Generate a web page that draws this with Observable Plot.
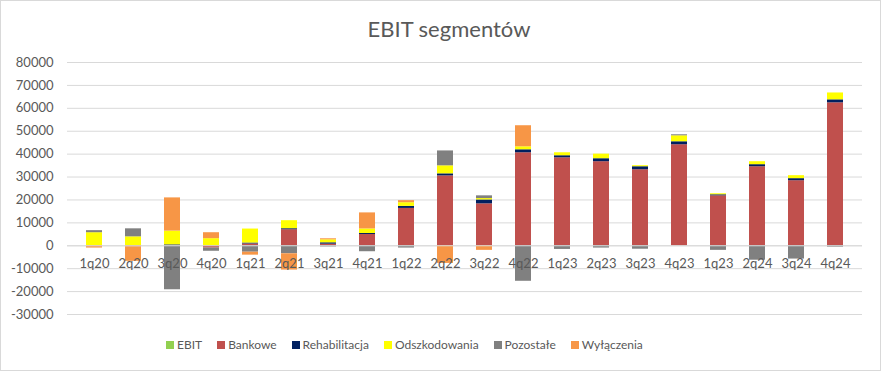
<!DOCTYPE html>
<html>
<head>
<meta charset="utf-8">
<script src="https://cdn.jsdelivr.net/npm/d3@7"></script>
<script src="https://cdn.jsdelivr.net/npm/@observablehq/plot@0.6"></script>
<style>
  html, body { margin: 0; padding: 0; background: #fff; }
  #wrap { position: relative; width: 881px; height: 371px; overflow: hidden; font-family: Lato, "Open Sans", sans-serif; color: #595959; }
  #frame { position: absolute; left: 0; top: 0; width: 881px; height: 371px; box-sizing: border-box; border: 1px solid #d9d9d9; pointer-events: none; }
  #title { position: absolute; left: 0; top: 18px; width: 898px; text-align: center; font-size: 22px; line-height: 21px; white-space: nowrap; }
  #legend { position: absolute; left: 166px; top: 339px; font-size: 12px; line-height: 12px; white-space: nowrap; }
  #legend .item { display: inline-block; margin-right: 15px; }
  #legend .sw { display: inline-block; width: 8px; height: 8px; margin-right: 3px; vertical-align: baseline; }
  #chart { position: absolute; left: 0; top: 0; }
</style>
</head>
<body>
<div id="wrap">
  <div id="chart"></div>
  <div id="title">EBIT segmentów</div>
  <div id="legend"></div>
  <div id="frame"></div>
</div>
<script>
// Category tick labels (the original repeats "1q23")
const labels = ["1q20","2q20","3q20","4q20","1q21","2q21","3q21","4q21","1q22","2q22","3q22","4q22","1q23","2q23","3q23","4q23","1q23","2q24","3q24","4q24"];

// Series names and colours (EBIT appears only in the legend)
const seriesNames = ["EBIT","Bankowe","Rehabilitacja","Odszkodowania","Pozostałe","Wyłączenia"];
const seriesColors = ["#92d050","#c0504d","#002060","#ffff00","#808080","#f79646"];

// Series values
const bankowe       = [0, -400, 0, -1000, 800, 7000, 700, 4900, 16300, 30500, 18300, 40600, 38400, 36700, 33200, 44100, 21800, 34500, 28400, 62400];
const rehabilitacja = [0, 0, 400, 0, 400, 450, 600, 450, 900, 900, 1700, 1300, 900, 1300, 1300, 1300, 450, 900, 900, 1300];
const odszkodowania = [5700, 3900, 6000, 3100, 6100, 3500, 1300, 2000, 1600, 3500, 600, 1300, 1300, 2000, 450, 2600, 450, 1300, 1300, 3000];
const pozostale     = [900, 3500, -19200, -1400, -2800, -3500, -500, -2600, -1000, 6500, 1200, -15500, -1600, -1000, -1500, 450, -2000, -6300, -5800, -600];
const wylaczenia    = [-1000, -6400, 14500, 2600, -1300, -7100, 450, 7000, 900, -7700, -2000, 9200, 0, 0, 0, 0, 0, 0, 0, 0];

// Y axis ticks
const yTicks = [-30000, -20000, -10000, 0, 10000, 20000, 30000, 40000, 50000, 60000, 70000, 80000];

const plotted = [
  ["Bankowe", bankowe],
  ["Rehabilitacja", rehabilitacja],
  ["Odszkodowania", odszkodowania],
  ["Pozostałe", pozostale],
  ["Wyłączenia", wylaczenia]
];
const rows = [];
labels.forEach((lab, i) => {
  for (const [name, vals] of plotted) rows.push({i, s: name, v: vals[i]});
});
const idx = labels.map((d, i) => i);

const chart = Plot.plot({
  width: 881,
  height: 371,
  marginTop: 62,
  marginBottom: 57,
  marginLeft: 67,
  marginRight: 19,
  style: {fontFamily: "Lato, 'Open Sans', sans-serif", background: "transparent"},
  x: {type: "band", domain: idx, paddingInner: 0.6, paddingOuter: 0.3, axis: null},
  y: {domain: [-30000, 80000], axis: null, label: null},
  color: {domain: seriesNames, range: seriesColors},
  marks: [
    Plot.gridY(yTicks, {stroke: "#d9d9d9", strokeOpacity: 1, strokeWidth: 1}),
    Plot.axisY(yTicks, {tickSize: 0, tickPadding: 14, fontSize: 13, fill: "#595959", label: null, tickFormat: d => String(d)}),
    Plot.barY(rows, Plot.stackY({x: "i", y: "v", fill: "s"})),
    Plot.ruleY([0], {stroke: "#d9d9d9", strokeWidth: 1}),
    Plot.text(idx, {x: d => d, y: () => 0, text: d => labels[d], dy: 18, fontSize: 13, fill: "#595959", textAnchor: "middle"})
  ]
});
document.getElementById("chart").appendChild(chart);

const legend = document.getElementById("legend");
seriesNames.forEach((name, k) => {
  const it = document.createElement("span");
  it.className = "item";
  const sw = document.createElement("span");
  sw.className = "sw";
  sw.style.background = seriesColors[k];
  it.appendChild(sw);
  it.appendChild(document.createTextNode(name));
  legend.appendChild(it);
});
</script>
</body>
</html>
